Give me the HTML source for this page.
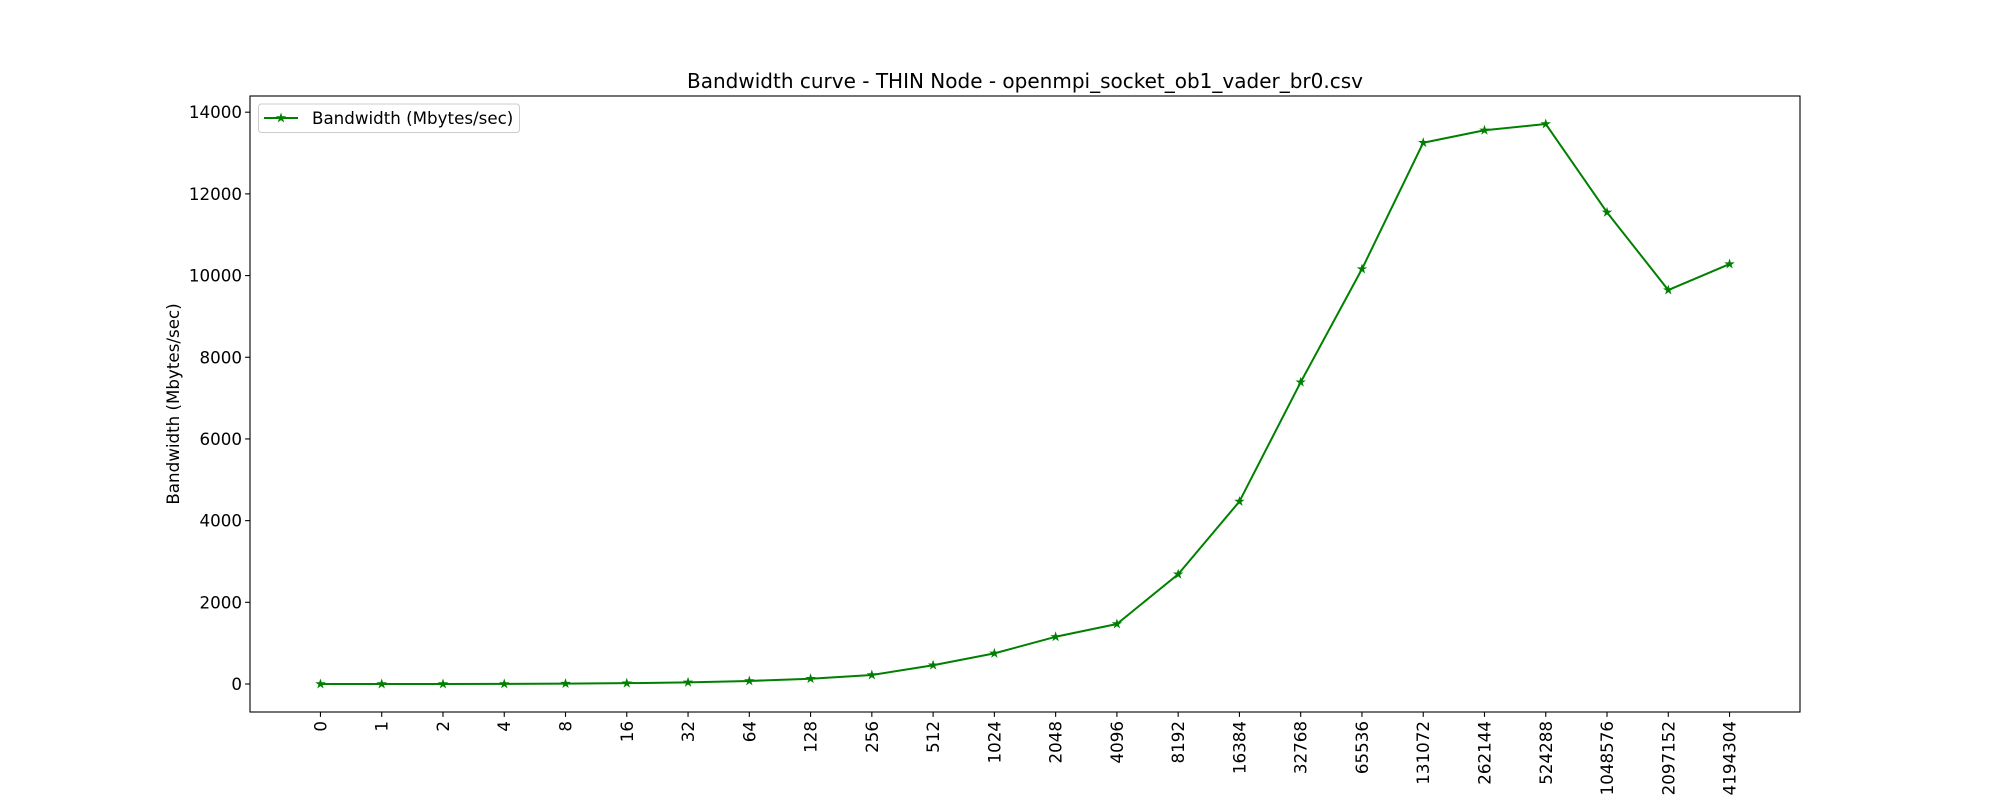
<!DOCTYPE html>
<html><head><meta charset="utf-8"><style>
html,body{margin:0;padding:0;background:#fff;}
svg{display:block;font-family:"DejaVu Sans","Liberation Sans",sans-serif;}
</style></head><body>
<svg id="chart" width="2000" height="800" viewBox="0 0 2000 800">
<rect width="2000" height="800" fill="#fff"/>
<text x="1025" y="88" text-anchor="middle" font-size="20">Bandwidth curve - THIN Node - openmpi_socket_ob1_vader_br0.csv</text>
<text transform="translate(179,404) rotate(-90)" text-anchor="middle" font-size="16.7">Bandwidth (Mbytes/sec)</text>
<g id="yticks"></g>
<g id="xticks"></g>
<g id="series"></g>
<rect x="250" y="96" width="1550" height="616" fill="none" stroke="#000" stroke-width="1.1"/>
<g>
<rect x="258.5" y="104" width="261" height="28.5" rx="3" fill="#fff" fill-opacity="0.8" stroke="#ccc" stroke-width="1"/>
<line x1="264" y1="118" x2="298" y2="118" stroke="green" stroke-width="2"/>
<polygon id="legstar" fill="green"/>
<text x="312" y="124" font-size="16.7">Bandwidth (Mbytes/sec)</text>
</g>
</svg>
<script>
const categories = ["0","1","2","4","8","16","32","64","128","256","512","1024","2048","4096","8192","16384","32768","65536","131072","262144","524288","1048576","2097152","4194304"];
const bandwidth = [0,0,0,2,10,20,40,75,130,220,460,750,1156,1469,2687,4469,7390,10160,13253,13557,13711,11548,9645,10282];
const yTicks = [0,2000,4000,6000,8000,10000,12000,14000];
const NS="http://www.w3.org/2000/svg";
const axL=250,axR=1800,axT=96,axB=712;
const nCat=categories.length-1;
const xmin=-nCat*0.05, xmax=nCat*1.05;
const dmax=Math.max(...bandwidth), dmin=Math.min(...bandwidth);
const ymin=dmin-(dmax-dmin)*0.05, ymax=dmax+(dmax-dmin)*0.05;
function xs(i){return axL+(i-xmin)/(xmax-xmin)*(axR-axL);}
function ys(v){return axB-(v-ymin)/(ymax-ymin)*(axB-axT);}
function mk(tag,attrs,parent){const e=document.createElementNS(NS,tag);for(const k in attrs)e.setAttribute(k,attrs[k]);parent.appendChild(e);return e;}
function star(cx,cy,r){const p=[];for(let k=0;k<10;k++){const a=-Math.PI/2+k*Math.PI/5;const rr=k%2?r*0.382:r;p.push((cx+rr*Math.cos(a)).toFixed(2)+","+(cy+rr*Math.sin(a)).toFixed(2));}return p.join(" ");}
document.getElementById('legstar').setAttribute('points',star(281,118,5.5));
const yg=document.getElementById('yticks');
yTicks.forEach(v=>{
  const y=ys(v);
  const t=mk('line',{x1:axL-4.9,x2:axL,y1:y,y2:y,stroke:'#000','stroke-width':1.1},yg);
  
  
  const l=mk('text',{x:axL-8,y:y+6,'text-anchor':'end','font-size':16.7},yg);
  l.textContent=v;
  
  
});
const xg=document.getElementById('xticks');
categories.forEach((c,i)=>{
  const x=xs(i);
  const t=mk('line',{x1:x,x2:x,y1:axB,y2:axB+4.9,stroke:'#000','stroke-width':1.1},xg);
  
  
  const l=mk('text',{transform:`translate(${x+6},${axB+9}) rotate(-90)`,'text-anchor':'end','font-size':16.7},xg);
  l.textContent=c;
  
  
});
const sg=document.getElementById('series');
const pts=bandwidth.map((v,i)=>xs(i).toFixed(2)+","+ys(v).toFixed(2)).join(" ");
const line=mk('polyline',{points:pts,fill:'none',stroke:'green','stroke-width':2,'stroke-linejoin':'round'},sg);


bandwidth.forEach((v,i)=>{
  const m=mk('polygon',{points:star(xs(i),ys(v),5.5),fill:'green'},sg);
  
  
});
</script>
</body></html>
